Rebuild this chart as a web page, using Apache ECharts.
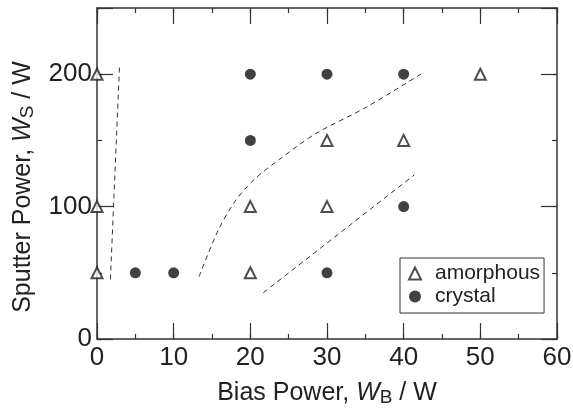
<!DOCTYPE html>
<html lang="en">
<head>
    <meta charset="UTF-8">
    <title>Sputter vs Bias Power</title>
    <script src="https://cdn.jsdelivr.net/npm/echarts@6/dist/echarts.min.js"></script>
    <style>
        html, body { margin: 0; padding: 0; background: #fff; }
        #chart1 { width: 573px; height: 412px; }
    </style>
</head>
<body>
<div id="chart1"></div>
<script>
    // 数据
    var amorphous = [[0, 50], [0, 100], [0, 200], [20, 50], [20, 100], [30, 100], [30, 150], [40, 150], [50, 200]];
    var crystal = [[5, 50], [10, 50], [20, 150], [20, 200], [30, 200], [30, 50], [40, 200], [40, 100]];
    // 虚线边界
    var boundary1 = [[1.75, 45], [2.95, 208]];
    var boundary2 = [[13.3, 47], [15.8, 82], [18.0, 104], [20.6, 121], [24.1, 137], [28.5, 155], [35.1, 175], [42.5, 201]];
    var boundary3 = [[21.7, 35], [41.4, 124]];
    var xTicks = [0, 10, 20, 30, 40, 50, 60];
    var yTicks = [0, 100, 200];

    var font = 'Liberation Sans, Arial, sans-serif';
    var frame = '#333';

    var nameRich = {
        a: {fontSize: 25, fontFamily: font, color: '#222', lineHeight: 28},
        i: {fontSize: 25, fontFamily: font, color: '#222', fontStyle: 'italic', lineHeight: 28},
        s: {fontSize: 19, fontFamily: font, color: '#222', verticalAlign: 'bottom', lineHeight: 28}
    };

    function xAx(pos, step, len, main) {
        return {
            type: 'value', position: pos, min: 0, max: 60, interval: step,
            axisLine: {show: main, onZero: false, lineStyle: {color: frame, width: 1.5}},
            axisTick: {show: true, inside: true, length: len, lineStyle: {color: frame, width: 1.2}},
            axisLabel: {
                show: main && pos === 'bottom', margin: 6, fontSize: 26, fontFamily: font, color: '#222',
                formatter: function (v) { return xTicks.indexOf(v) >= 0 ? String(v) : ''; }
            },
            splitLine: {show: false},
            name: main && pos === 'bottom' ? '{a|Bias Power, }{i|W}{s|B}{a| / W}' : '',
            nameLocation: 'middle', nameGap: 40,
            nameTextStyle: {rich: nameRich}
        };
    }

    function yAx(pos, step, len, main) {
        return {
            type: 'value', position: pos, min: 0, max: 250, interval: step,
            axisLine: {show: main, onZero: false, lineStyle: {color: frame, width: 1.5}},
            axisTick: {show: true, inside: true, length: len, lineStyle: {color: frame, width: 1.2}},
            axisLabel: {
                show: main && pos === 'left', margin: 5, fontSize: 26, fontFamily: font, color: '#222',
                formatter: function (v) { return yTicks.indexOf(v) >= 0 ? String(v) : ''; }
            },
            splitLine: {show: false},
            name: main && pos === 'left' ? '{a|Sputter Power, }{i|W}{s|S}{a| / W}' : '',
            nameLocation: 'middle', nameGap: 60,
            nameTextStyle: {padding: [0, 27, 0, 0], rich: nameRich}
        };
    }

    function dashed(d) {
        return {
            type: 'line', data: d, showSymbol: false, symbol: 'none', smooth: d.length > 2 ? 0.3 : false,
            lineStyle: {color: '#333', width: 1, type: [5, 4]}, silent: true, z: 1
        };
    }

    var myChart = echarts.init(document.getElementById('chart1'));
    var option = {
        animation: false,
        backgroundColor: '#fff',
        grid: {left: 97, right: 16, top: 8, bottom: 73, outerBoundsMode: 'none', containLabel: false},
        xAxis: [xAx('bottom', 10, 16, true), xAx('bottom', 5, 5, false), xAx('top', 10, 16, true), xAx('top', 5, 5, false)],
        yAxis: [yAx('left', 100, 16, true), yAx('left', 50, 5, false), yAx('right', 100, 16, true), yAx('right', 50, 5, false)],
        legend: {
            data: ['amorphous', 'crystal'],
            orient: 'vertical', left: 400, top: 258,
            padding: [5, 4, 6, 8], itemGap: 2, itemWidth: 12, itemHeight: 12,
            borderColor: '#333', borderWidth: 1, borderRadius: 0,
            textStyle: {fontSize: 21, fontFamily: font, color: '#222', lineHeight: 21, padding: [0, 0, 0, 9]}
        },
        series: [
            {
                name: 'amorphous', type: 'scatter', data: amorphous, symbol: 'emptyTriangle', symbolSize: 11,
                itemStyle: {color: '#222', borderWidth: 2}, z: 3
            },
            {
                name: 'crystal', type: 'scatter', data: crystal, symbol: 'circle', symbolSize: 11,
                itemStyle: {color: '#111'}, z: 3
            },
            dashed(boundary1), dashed(boundary2), dashed(boundary3)
        ]
    };
    myChart.setOption(option);
</script>
</body>
</html>
